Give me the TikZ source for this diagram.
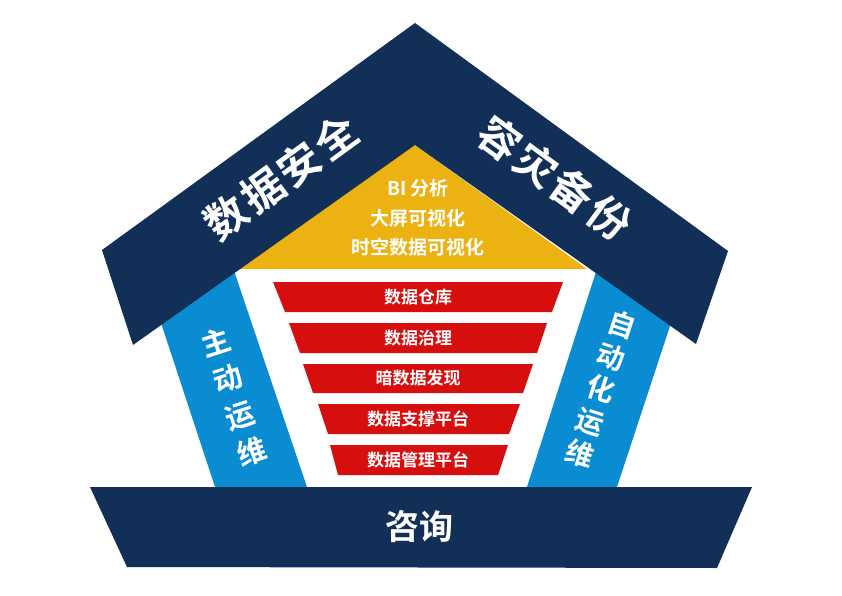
\documentclass[tikz,border=0pt]{standalone}
\usepackage{fontspec}
\setmainfont{Noto Sans CJK SC}[BoldFont={Noto Sans CJK SC Bold}]
\definecolor{navy}{RGB}{17,47,87}
\definecolor{pillarblue}{RGB}{10,140,210}
\definecolor{gold}{RGB}{235,178,18}
\definecolor{barred}{RGB}{214,14,14}
\newcommand{\gapc}{\hspace{3pt}}
\begin{document}
\begin{tikzpicture}[x=1pt,y=-1pt,
  wt/.style={text=white,inner sep=0pt},
  rooftext/.style={wt,font=\fontsize{42}{42}\selectfont\bfseries},
  bartext/.style={wt,font=\fontsize{17}{17}\selectfont\bfseries},
  pillartext/.style={wt,align=center}]
\useasboundingbox (0,0) rectangle (842,596);
% pillars
\fill[pillarblue] (137,250) -- (227,250) -- (308,490) -- (216,490) -- cycle;
\fill[pillarblue] (603,250) -- (695,250) -- (616,490) -- (526,490) -- cycle;
% base
\fill[navy] (90,487) -- (752,487) -- (717,568) -- (127,567) -- cycle;
% yellow triangle
\fill[gold] (415,145) -- (587,269) -- (233,269) -- cycle;
% roof
\fill[navy] (415,23) -- (728,251) -- (696,344) -- (415,145) -- (133,345) -- (102,250) -- cycle;
% red bars
\fill[barred] (273,282) -- (563,282) -- (552,312) -- (285,312) -- cycle;
\fill[barred] (289,323) -- (547,323) -- (537,353) -- (300,353) -- cycle;
\fill[barred] (303,364) -- (533,364) -- (523,393) -- (313,393) -- cycle;
\fill[barred] (318,404) -- (520,404) -- (509,434) -- (328,434) -- cycle;
\fill[barred] (330,445) -- (508,445) -- (498,475) -- (338,475) -- cycle;
\node[bartext] (b1) at (418,297) {数据仓库};
\node[bartext] (b2) at (418,338) {数据治理};
\node[bartext] (b3) at (418,378.5) {暗数据发现};
\node[bartext] (b4) at (418,419) {数据支撑平台};
\node[bartext] (b5) at (418,460) {数据管理平台};
% roof texts
\node[rooftext,rotate=36] (sec) at (281,177) {数\gapc 据\gapc 安\gapc 全};
\node[rooftext,rotate=-36] (dr) at (555,178) {容\gapc 灾\gapc 备\gapc 份};
% yellow text
\node[wt,align=center,font=\fontsize{19}{29.5}\selectfont\bfseries] (viz) at (418,218) {BI 分析\\大屏可视化\\时空数据可视化};
% pillar texts
\node[pillartext,font=\fontsize{29}{38.5}\selectfont\bfseries,rotate=18] (zd) at (234,397) {主\\动\\运\\维};
\node[pillartext,font=\fontsize{28}{34}\selectfont\bfseries,rotate=-18] (auto) at (601,389) {自\\动\\化\\运\\维};
% base text
\node[wt,font=\fontsize{34}{34}\selectfont\bfseries] (zx) at (419,527) {咨询};
\end{tikzpicture}
\end{document}
